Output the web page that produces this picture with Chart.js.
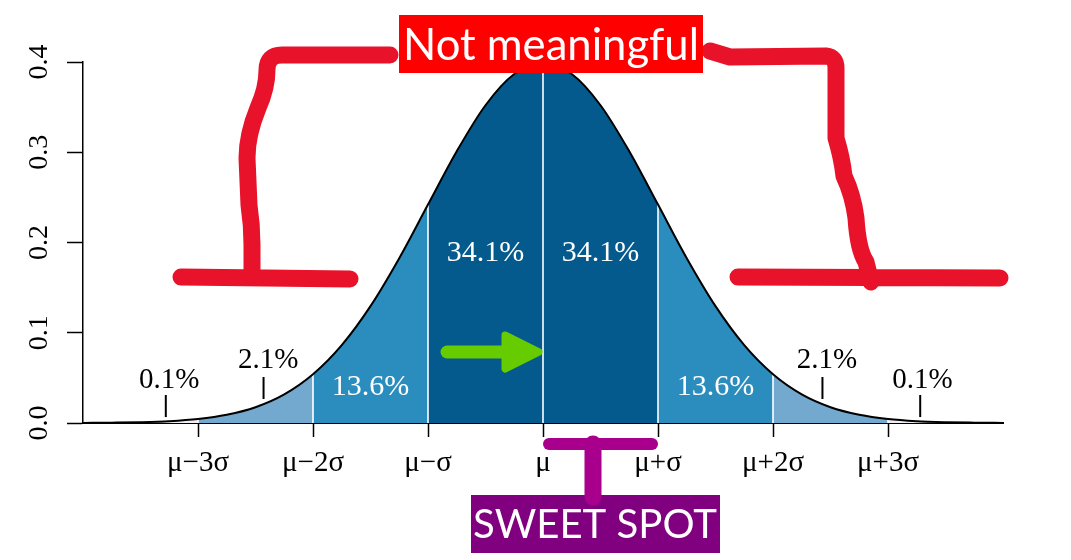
<!DOCTYPE html>
<html>
<head>
<meta charset="utf-8">
<script src="https://cdn.jsdelivr.net/npm/chart.js@4.4.1/dist/chart.umd.min.js"></script>
<style>
  html, body { margin: 0; padding: 0; background: #fff; }
</style>
</head>
<body>
<canvas id="chart" width="1071" height="560"></canvas>
<script>
// curve heights, every quarter sigma
const zValues = [-4, -3.75, -3.5, -3.25, -3, -2.75, -2.5, -2.25, -2, -1.75, -1.5, -1.25, -1, -0.75, -0.5, -0.25,
  0, 0.25, 0.5, 0.75, 1, 1.25, 1.5, 1.75, 2, 2.25, 2.5, 2.75, 3, 3.25, 3.5, 3.75, 4];
const density = [0.0001, 0.0004, 0.0009, 0.002, 0.0044, 0.0091, 0.0175, 0.0317, 0.054, 0.0863, 0.1295, 0.1826, 0.242, 0.3011, 0.3521, 0.3867,
  0.3989, 0.3867, 0.3521, 0.3011, 0.242, 0.1826, 0.1295, 0.0863, 0.054, 0.0317, 0.0175, 0.0091, 0.0044, 0.002, 0.0009, 0.0004, 0.0001];

// sigma bands and their shares
const bandEdges = [-4, -3, -2, -1, 0, 1, 2, 3, 4];
const bandShares = ['0.1%', '2.1%', '13.6%', '34.1%', '34.1%', '13.6%', '2.1%', '0.1%'];

const xTickValues = [-3, -2, -1, 0, 1, 2, 3];
const xTickLabels = ['\u03bc\u22123\u03c3', '\u03bc\u22122\u03c3', '\u03bc\u2212\u03c3', '\u03bc', '\u03bc+\u03c3', '\u03bc+2\u03c3', '\u03bc+3\u03c3'];
const yTickValues = [0, 0.1, 0.2, 0.3, 0.4];

// small pointer strokes under the tail percentages
const pointerZ = [-3.28, -2.43, 2.43, 3.28];
const pointerLow = [0.0066, 0.0266, 0.0266, 0.0066];
const pointerHigh = [0.031, 0.051, 0.051, 0.031];

const bandColors = ['#f1eef6', '#74a9cf', '#2b8cbe', '#045a8d', '#045a8d', '#2b8cbe', '#74a9cf', '#f1eef6'];
const serif = 'Liberation Serif';

const curvePoints = zValues.map((z, i) => ({ x: z, y: density[i] }));

const datasets = [];
datasets.push({
  data: curvePoints, borderColor: '#000', borderWidth: 2, fill: false,
  cubicInterpolationMode: 'monotone', order: 0
});
bandEdges.slice(1, -1).forEach(edge => {
  const i = zValues.indexOf(edge);
  datasets.push({
    data: [{ x: edge, y: 0 }, { x: edge, y: density[i] }],
    borderColor: '#fff', borderWidth: 1.6, fill: false, order: 1
  });
});
pointerZ.forEach((z, i) => {
  datasets.push({
    data: [{ x: z, y: pointerLow[i] }, { x: z, y: pointerHigh[i] }],
    borderColor: '#000', borderWidth: 2, fill: false, order: 1
  });
});
for (let b = 0; b < bandEdges.length - 1; b++) {
  datasets.push({
    data: curvePoints.filter(p => p.x >= bandEdges[b] && p.x <= bandEdges[b + 1]),
    backgroundColor: bandColors[b], borderWidth: 0, fill: 'origin',
    cubicInterpolationMode: 'monotone', order: 2
  });
}

// where the share labels sit (sigma units, density units)
const labelSpots = [
  [-3.25, 0.0476], [-2.39, 0.0698], [-1.5, 0.0399], [-0.5, 0.1884],
  [0.5, 0.1884], [1.5, 0.0399], [2.47, 0.0698], [3.30, 0.0476]
];

function fitFont(ctx, text, family, width, maxSize) {
  ctx.font = '100px "' + family + '"';
  const size = Math.min(maxSize, 100 * width / ctx.measureText(text).width);
  return size + 'px "' + family + '"';
}

const overlay = {
  id: 'overlay',
  afterDatasetsDraw(chart) {
    const { ctx, scales: { x, y } } = chart;
    ctx.save();

    // share labels
    ctx.textAlign = 'center';
    ctx.textBaseline = 'middle';
    bandShares.forEach((txt, i) => {
      const inner = i >= 2 && i <= 5;
      ctx.fillStyle = inner ? '#fff' : '#000';
      ctx.font = (inner ? 30 : 29) + 'px "' + serif + '"';
      ctx.fillText(txt, x.getPixelForValue(labelSpots[i][0]), y.getPixelForValue(labelSpots[i][1]));
    });

    // rotated y tick labels
    ctx.fillStyle = '#000';
    ctx.font = '28px "' + serif + '"';
    yTickValues.forEach(v => {
      ctx.save();
      ctx.translate(40, y.getPixelForValue(v));
      ctx.rotate(-Math.PI / 2);
      ctx.fillText(v.toFixed(1), 0, 0);
      ctx.restore();
    });

    // red hand-drawn brackets
    ctx.strokeStyle = '#e8132a';
    ctx.lineWidth = 17;
    ctx.lineCap = 'round';
    ctx.lineJoin = 'round';
    ctx.beginPath();
    ctx.moveTo(390, 55);
    ctx.lineTo(282, 55);
    ctx.quadraticCurveTo(267, 55, 267, 70);
    ctx.quadraticCurveTo(267, 88, 258, 108);
    ctx.quadraticCurveTo(247, 135, 247, 158);
    ctx.lineTo(249, 205);
    ctx.quadraticCurveTo(252, 225, 252, 245);
    ctx.lineTo(252, 276);
    ctx.moveTo(181, 277);
    ctx.lineTo(350, 279);

    ctx.moveTo(710, 51);
    ctx.quadraticCurveTo(720, 54, 730, 57);
    ctx.lineTo(826, 56);
    ctx.quadraticCurveTo(836, 57, 836, 68);
    ctx.lineTo(836, 138);
    ctx.quadraticCurveTo(842, 158, 844, 176);
    ctx.quadraticCurveTo(853, 195, 856, 218);
    ctx.quadraticCurveTo(858, 250, 866, 262);
    ctx.lineTo(871, 282);
    ctx.moveTo(738, 277);
    ctx.lineTo(1000, 278);
    ctx.stroke();

    // green arrow pointing at the mean
    const mu = x.getPixelForValue(0);
    ctx.strokeStyle = '#66cc00';
    ctx.fillStyle = '#66cc00';
    ctx.lineWidth = 13;
    ctx.beginPath();
    ctx.moveTo(447, 352);
    ctx.lineTo(510, 352);
    ctx.stroke();
    ctx.lineWidth = 7;
    ctx.beginPath();
    ctx.moveTo(mu - 38, 335);
    ctx.lineTo(mu - 4, 352);
    ctx.lineTo(mu - 38, 369);
    ctx.closePath();
    ctx.fill();
    ctx.stroke();

    // "Not meaningful" box
    ctx.fillStyle = '#ff0000';
    ctx.fillRect(399, 15, 304, 58);
    ctx.fillStyle = '#fff';
    ctx.textBaseline = 'alphabetic';
    ctx.font = fitFont(ctx, 'Not meaningful', 'Lato', 296, 48);
    ctx.fillText('Not meaningful', 551, 60);

    // SWEET SPOT box and the purple T
    ctx.fillStyle = '#800080';
    ctx.fillRect(471, 495, 249, 58);
    ctx.strokeStyle = '#a8008c';
    ctx.lineWidth = 12;
    ctx.beginPath();
    ctx.moveTo(x.getPixelForValue(0) + 6, 444);
    ctx.lineTo(x.getPixelForValue(1) - 6, 444);
    ctx.stroke();
    ctx.lineWidth = 17;
    ctx.beginPath();
    ctx.moveTo(593, 444);
    ctx.lineTo(593, 497);
    ctx.stroke();
    ctx.fillStyle = '#fff';
    ctx.font = fitFont(ctx, 'SWEET SPOT', 'Lato', 244, 48);
    ctx.fillText('SWEET SPOT', 595, 538);

    ctx.restore();
  }
};

new Chart(document.getElementById('chart'), {
  type: 'line',
  data: { datasets: datasets },
  options: {
    responsive: false,
    animation: false,
    devicePixelRatio: 1,
    layout: { padding: { top: 62, right: 68, left: 0, bottom: 0 } },
    elements: { point: { radius: 0, hoverRadius: 0 } },
    plugins: { legend: { display: false }, tooltip: { enabled: false } },
    scales: {
      x: {
        type: 'linear', min: -4, max: 4,
        afterBuildTicks: s => { s.ticks = xTickValues.map(v => ({ value: v })); },
        afterFit: s => { s.height = 137; },
        ticks: {
          callback: v => xTickLabels[xTickValues.indexOf(v)],
          font: { family: serif, size: 29 }, color: '#000',
          padding: 9, maxRotation: 0, autoSkip: false
        },
        grid: { drawOnChartArea: false, tickLength: 14, tickColor: '#000', tickWidth: 1.5 },
        border: { display: true, color: '#000', width: 2 }
      },
      y: {
        min: 0, max: 0.4,
        afterBuildTicks: s => { s.ticks = yTickValues.map(v => ({ value: v })); },
        afterFit: s => { s.width = 83; },
        ticks: { display: false },
        grid: { drawOnChartArea: false, tickLength: 16, tickColor: '#000', tickWidth: 1.5 },
        border: { display: true, color: '#000', width: 1.5 }
      }
    }
  },
  plugins: [overlay]
});
</script>
</body>
</html>
